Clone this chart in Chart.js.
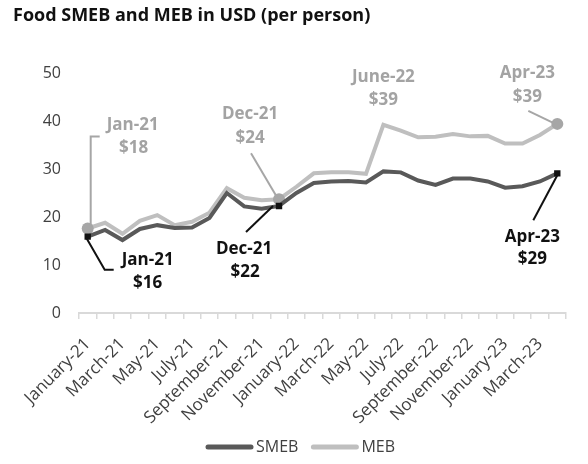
<!DOCTYPE html>
<html>
<head>
<meta charset="utf-8">
<script src="https://cdn.jsdelivr.net/npm/chart.js@4/dist/chart.umd.min.js"></script>
<style>
html,body{margin:0;padding:0;background:#fff;}
#wrap{width:588px;height:464px;position:relative;}
</style>
</head>
<body>
<div id="wrap"><canvas id="c" width="588" height="464"></canvas></div>
<script>
const months = ["January-21","February-21","March-21","April-21","May-21","June-21","July-21","August-21","September-21","October-21","November-21","December-21",
"January-22","February-22","March-22","April-22","May-22","June-22","July-22","August-22","September-22","October-22","November-22","December-22",
"January-23","February-23","March-23","April-23"];
const smeb = [15.9,17.3,15.2,17.5,18.3,17.7,17.8,19.8,25.0,22.2,21.7,22.3,25.0,27.1,27.4,27.5,27.2,29.5,29.3,27.6,26.7,28.0,28.0,27.4,26.1,26.4,27.4,29.1];
const meb  = [17.6,18.8,16.5,19.2,20.4,18.3,19.0,20.9,26.0,24.0,23.5,23.7,26.3,29.1,29.3,29.3,29.0,39.2,38.0,36.6,36.7,37.3,36.8,36.9,35.3,35.3,37.1,39.4];
const yTicks = [0,10,20,30,40,50];
const highlightIdx = [0,11,27];

const SMEB_COLOR = '#595959';
const MEB_COLOR = '#bfbfbf';
const MEB_MARK = '#a6a6a6';
const MEB_TEXT = '#a3a3a3';
const SMEB_TEXT = '#111111';

const annotations = [
  {ds:1, i:0, color:MEB_TEXT, line:MEB_MARK, text:[["Jan-21",45,-103],["$18",46,-80]], path:[[3,-4],[3,-92],[12,-92]]},
  {ds:0, i:0, color:SMEB_TEXT, line:'#111', text:[["Jan-21",60,23],["$16",60,46]], path:[[-2,0],[17,33],[26,33]]},
  {ds:1, i:11, color:MEB_TEXT, line:MEB_MARK, text:[["Dec-21",-29,-85],["$24",-29,-61]], path:[[-28,-46],[-2,-2]]},
  {ds:0, i:11, color:SMEB_TEXT, line:'#111', text:[["Dec-21",-35,43],["$22",-34,66]], path:[[-33,26],[-6,0]]},
  {ds:1, i:17, color:MEB_TEXT, line:null, text:[["June-22",0,-48],["$39",0,-25]], path:[]},
  {ds:1, i:27, color:MEB_TEXT, line:MEB_MARK, text:[["Apr-23",-30,-51],["$39",-30,-27]], path:[[-29,-13],[-2,0]]},
  {ds:0, i:27, color:SMEB_TEXT, line:'#111', text:[["Apr-23",-25,64],["$29",-25,86]], path:[[-24,47],[0,2]]}
];

function roundLine(ctx, x1, x2, y, w, color){
  ctx.strokeStyle = color; ctx.lineWidth = w; ctx.lineCap = 'round';
  ctx.beginPath(); ctx.moveTo(x1, y); ctx.lineTo(x2, y); ctx.stroke();
}

const annotPlugin = {
  id:'annot',
  beforeDraw(chart){
    const ctx = chart.ctx;
    ctx.save();
    ctx.fillStyle = '#ffffff';
    ctx.fillRect(0,0,chart.width,chart.height);
    ctx.fillStyle = '#111111';
    ctx.font = 'bold 18px "Open Sans"';
    ctx.textAlign = 'left'; ctx.textBaseline = 'middle';
    ctx.fillText('Food SMEB and MEB in USD (per person)', 13, 16);
    ctx.restore();
  },
  afterDatasetsDraw(chart){
    const ctx = chart.ctx;
    ctx.save();
    annotations.forEach(a=>{
      const pt = chart.getDatasetMeta(a.ds).data[a.i];
      const x = pt.x, y = pt.y;
      if (a.line && a.path.length){
        ctx.strokeStyle = a.line; ctx.lineWidth = 2;
        ctx.beginPath();
        a.path.forEach((p,k)=>{ if(k===0) ctx.moveTo(x+p[0],y+p[1]); else ctx.lineTo(x+p[0],y+p[1]); });
        ctx.stroke();
      }
      ctx.fillStyle = a.color;
      ctx.font = 'bold 17px "Open Sans"';
      ctx.textAlign = 'center'; ctx.textBaseline = 'middle';
      a.text.forEach(t=>ctx.fillText(t[0], x+t[1], y+t[2]));
    });
    ctx.restore();
  },
  afterDraw(chart){
    const ctx = chart.ctx;
    ctx.save();
    const ly = 447;
    ctx.font = '16px "Open Sans"';
    ctx.textBaseline = 'middle'; ctx.textAlign = 'left';
    const ds = chart.data.datasets;
    let x = 208;
    ds.forEach((d,k)=>{
      roundLine(ctx, x, x+43, ly, 5, d.borderColor);
      ctx.fillStyle = '#404040';
      ctx.fillText(d.label, x+48, ly);
      x += 48 + ctx.measureText(d.label).width + 15;
    });
    ctx.restore();
  }
};

new Chart(document.getElementById('c'), {
  type:'line',
  data:{
    labels: months,
    datasets:[
      {label:'SMEB', data:smeb, borderColor:SMEB_COLOR, backgroundColor:SMEB_COLOR, borderWidth:4, tension:0,
       pointStyle:'rect', pointRadius:c=>highlightIdx.includes(c.dataIndex)?4.5:0, pointBackgroundColor:'#111', pointBorderColor:'#111', pointBorderWidth:0, pointHoverRadius:0},
      {label:'MEB', data:meb, borderColor:MEB_COLOR, backgroundColor:MEB_COLOR, borderWidth:4, tension:0,
       pointStyle:'circle', pointRadius:c=>highlightIdx.includes(c.dataIndex)?6:0, pointBackgroundColor:MEB_MARK, pointBorderColor:MEB_MARK, pointBorderWidth:0, pointHoverRadius:0}
    ]
  },
  options:{
    responsive:false, animation:false, devicePixelRatio:1,
    layout:{padding:{top:73,right:22,left:0,bottom:38}},
    plugins:{
      tooltip:{enabled:false},
      legend:{display:false}
    },
    scales:{
      x:{
        offset:true,
        grid:{display:true, offset:true, drawOnChartArea:false, drawTicks:true, tickLength:6, color:'#d9d9d9', lineWidth:1.5},
        border:{display:true, color:'#d9d9d9', width:2},
        ticks:{autoSkip:false, minRotation:45, maxRotation:45, padding:15, color:'#404040', font:{family:'"Open Sans"', size:17},
          callback:function(v,idx){ return idx%2===0 ? months[idx] : ''; }},
        afterFit(s){ s.height = 113; }
      },
      y:{
        min:0, max:50,
        afterBuildTicks(s){ s.ticks = yTicks.map(v=>({value:v})); },
        grid:{display:false, drawTicks:false},
        border:{display:false},
        ticks:{padding:18, color:'#404040', font:{family:'"Open Sans"', size:16}},
        afterFit(s){ s.width = 79; }
      }
    }
  },
  plugins:[annotPlugin]
});
</script>
</body>
</html>
